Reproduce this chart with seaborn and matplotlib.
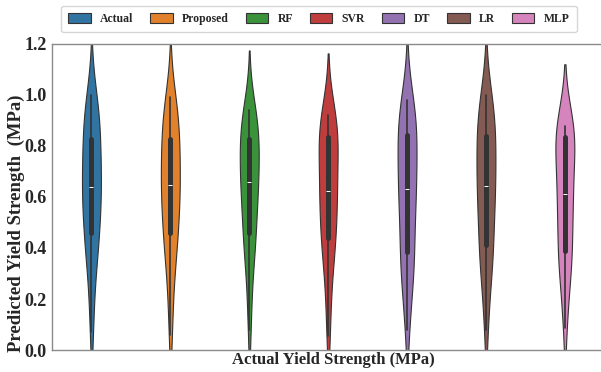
import numpy as np
import pandas as pd
import matplotlib
matplotlib.use("Agg")
import matplotlib.pyplot as plt
import seaborn as sns

models = ["Actual", "Proposed", "RF", "SVR", "DT", "LR", "MLP"]

actual = [0.07, 0.17, 0.27, 0.34, 0.38, 0.41, 0.43, 0.45, 0.48, 0.52, 0.55, 0.58, 0.60, 0.62, 0.63,
          0.65, 0.67, 0.69, 0.72, 0.75, 0.78, 0.82, 0.83, 0.86, 0.88, 0.90, 0.93, 0.95, 0.98, 1.00]
proposed = [0.06, 0.16, 0.26, 0.33, 0.38, 0.41, 0.43, 0.45, 0.48, 0.52, 0.55, 0.58, 0.60, 0.62, 0.64,
            0.65, 0.67, 0.70, 0.72, 0.75, 0.78, 0.82, 0.83, 0.85, 0.87, 0.90, 0.92, 0.95, 0.97, 0.99]
rf = [0.08, 0.18, 0.28, 0.35, 0.39, 0.42, 0.44, 0.45, 0.49, 0.53, 0.57, 0.60, 0.62, 0.64, 0.65,
      0.67, 0.69, 0.71, 0.73, 0.76, 0.79, 0.82, 0.83, 0.85, 0.86, 0.88, 0.90, 0.91, 0.93, 0.94]
svr = [0.055, 0.14, 0.24, 0.32, 0.37, 0.40, 0.42, 0.43, 0.46, 0.50, 0.53, 0.56, 0.59, 0.61, 0.62,
       0.63, 0.66, 0.69, 0.72, 0.75, 0.79, 0.83, 0.835, 0.85, 0.86, 0.87, 0.88, 0.90, 0.91, 0.92]
dt = [0.08, 0.16, 0.24, 0.29, 0.32, 0.35, 0.36, 0.37, 0.42, 0.47, 0.52, 0.56, 0.59, 0.61, 0.62,
      0.64, 0.66, 0.69, 0.72, 0.76, 0.80, 0.83, 0.845, 0.86, 0.88, 0.90, 0.92, 0.94, 0.96, 0.98]
lr = [0.08, 0.17, 0.26, 0.32, 0.35, 0.38, 0.39, 0.40, 0.45, 0.50, 0.54, 0.57, 0.60, 0.62, 0.635,
      0.65, 0.67, 0.70, 0.73, 0.77, 0.80, 0.83, 0.84, 0.86, 0.88, 0.91, 0.93, 0.96, 0.98, 1.00]
mlp = [0.085, 0.17, 0.25, 0.30, 0.34, 0.36, 0.37, 0.38, 0.42, 0.46, 0.50, 0.54, 0.57, 0.59, 0.60,
       0.62, 0.65, 0.68, 0.71, 0.75, 0.79, 0.83, 0.835, 0.845, 0.85, 0.86, 0.865, 0.87, 0.875, 0.88]

series = [actual, proposed, rf, svr, dt, lr, mlp]
df = pd.DataFrame({
    "model": np.repeat(models, [len(s) for s in series]),
    "value": np.concatenate(series),
})

sns.set_style("white")
plt.rcParams["font.family"] = ["Liberation Serif", "DejaVu Serif"]
plt.rcParams["font.weight"] = "bold"

fig = plt.figure(figsize=(6.01, 3.72), dpi=100)
ax = fig.add_axes([0.0865, 0.059, 0.919, 0.823])

sns.violinplot(data=df, x="model", y="value", hue="model", order=models, hue_order=models,
               palette="tab10", width=0.24, density_norm="width", linewidth=0.8,
               linecolor="#333333", legend=True, ax=ax)

ax.set_ylim(0, 1.2)
ticks = [0.0, 0.2, 0.4, 0.6, 0.8, 1.0, 1.2]
ax.set_yticks(ticks)
ax.set_yticklabels([f"{v:.1f}" for v in ticks], fontsize=13, fontweight="bold")
ax.set_xticks([])
ax.tick_params(axis="y", length=0, pad=4)
ax.set_xlabel("Actual Yield Strength (MPa)", fontsize=12, fontweight="bold", labelpad=2)
ax.xaxis.set_label_coords(0.51, -0.005)
ax.set_ylabel("Predicted Yield Strength  (MPa)", fontsize=13.5, fontweight="bold")
ax.yaxis.set_label_coords(-0.049, 0.415)

for side in ["left", "top", "bottom", "right"]:
    ax.spines[side].set_color("#8a8a8a")
    ax.spines[side].set_linewidth(1.0)

sns.move_legend(ax, "lower center", bbox_to_anchor=(0.5, 1.0), ncol=7, frameon=True,
                title=None, handlelength=1.9, handleheight=0.85, handletextpad=0.8,
                columnspacing=1.42, borderpad=0.6, borderaxespad=1.0,
                prop={"weight": "bold", "size": 8.5})
leg = ax.get_legend()
leg.set_bbox_to_anchor((0.0, 1.0, 1.0, 0.0), transform=ax.transAxes)
leg.set_loc("lower center")

fig.canvas.draw()
bb = leg.get_window_extent()
# shift legend to be centred at x = 319 px (reference centre)
dx = (319 - (bb.x0 + bb.x1) / 2) / (ax.bbox.width)
leg.set_bbox_to_anchor((dx, 1.0, 1.0, 0.0), transform=ax.transAxes)

fig.savefig("out.png", dpi=100)
